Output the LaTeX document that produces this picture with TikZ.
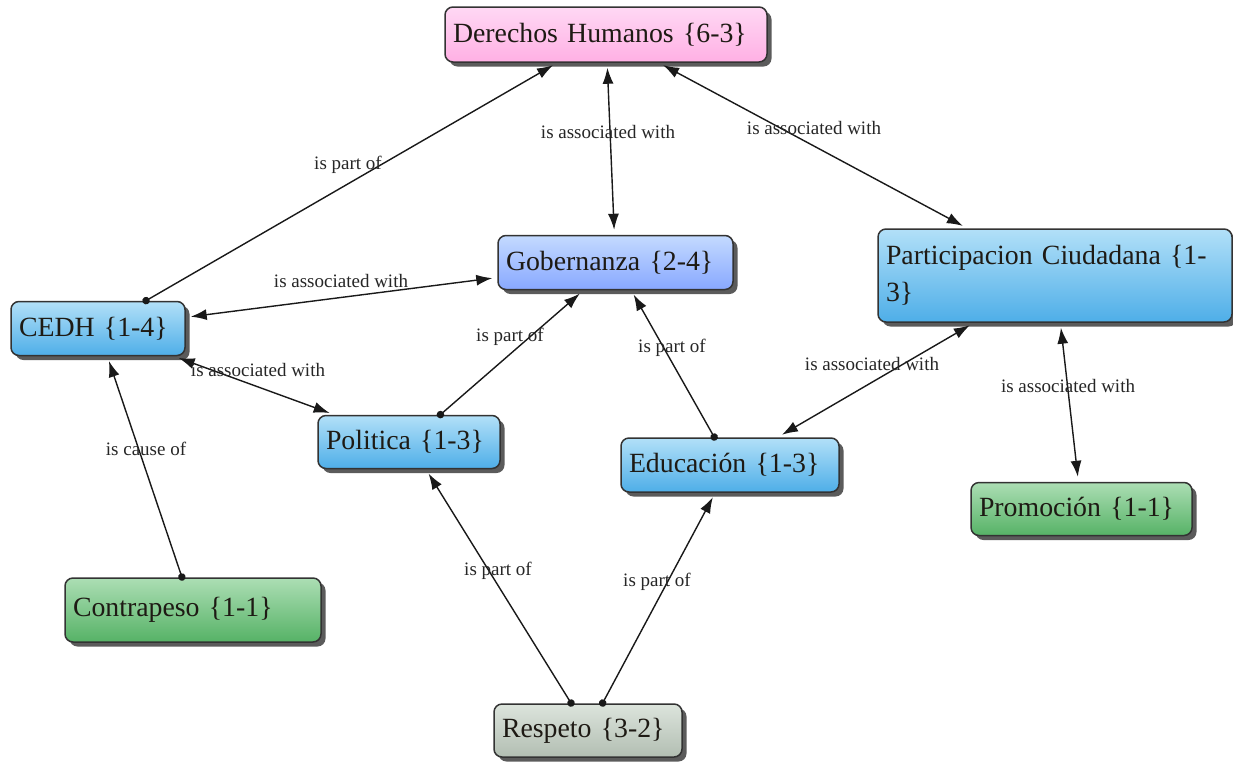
\documentclass[tikz,border=0pt]{standalone}
\usepackage{fontspec}
\setmainfont{Liberation Serif}
\usetikzlibrary{arrows.meta,shadows}
\definecolor{pinkT}{HTML}{FFD8F4}
\definecolor{pinkB}{HTML}{FFB0E4}
\definecolor{gobT}{HTML}{C4DAFF}
\definecolor{gobB}{HTML}{88A8FF}
\definecolor{blueT}{HTML}{B2E0F8}
\definecolor{blueB}{HTML}{4EAEE8}
\definecolor{greenT}{HTML}{ACDEB4}
\definecolor{greenB}{HTML}{56B266}
\definecolor{greyT}{HTML}{DCE4DC}
\definecolor{greyB}{HTML}{B2BEB2}
\definecolor{edge}{HTML}{333333}
\definecolor{txt}{HTML}{1E1A14}
\tikzset{
  concept/.style={draw=edge, line width=1.5pt, rounded corners=8pt,
    inner xsep=8pt, inner ysep=4pt, align=left, text=txt,
    font=\fontsize{27.8}{37}\selectfont,
    drop shadow={shadow xshift=4.5pt, shadow yshift=-4.5pt, fill=black!80, opacity=0.8}},
  pinkbox/.style={concept, top color=pinkT, bottom color=pinkB},
  gobbox/.style={concept, top color=gobT, bottom color=gobB},
  bluebox/.style={concept, top color=blueT, bottom color=blueB},
  greenbox/.style={concept, top color=greenT, bottom color=greenB},
  greybox/.style={concept, top color=greyT, bottom color=greyB},
  sz/.style n args={2}{text width=#1pt-16pt, minimum height=#2pt},
  lbl/.style={font=\fontsize{19}{22}\selectfont, text=black!85, inner sep=0pt},
  link/.style={line width=1.4pt, black!90},
  bi/.style={link, {Latex[length=16pt,width=11pt]}-{Latex[length=16pt,width=11pt]}, shorten >=5pt, shorten <=5pt},
  uni/.style={link, {Circle[length=7.5pt]}-{Latex[length=16pt,width=11pt]}, shorten >=5pt, shorten <=-3.5pt},
}
\begin{document}
\begin{tikzpicture}[x=1pt,y=-1pt]
\useasboundingbox[fill=white] (0,0) rectangle (1233,761);
% concepts
\node[pinkbox, sz={322}{55}] (dh) at (606,34.5) {Derechos Humanos \{6-3\}};
\node[gobbox, sz={235}{54}] (gob) at (615.5,262.5) {Gobernanza \{2-4\}};
\node[bluebox, sz={354}{93}] (part) at (1055,275.5) {Participacion Ciudadana \{1-\\3\}};
\node[bluebox, sz={174}{54}] (cedh) at (98,328.5) {CEDH \{1-4\}};
\node[bluebox, sz={182}{53}] (pol) at (409,442) {Politica \{1-3\}};
\node[bluebox, sz={218}{54}] (edu) at (730,465) {Educación \{1-3\}};
\node[greenbox, sz={221}{53}] (prom) at (1081.5,509) {Promoción \{1-1\}};
\node[greenbox, sz={256}{64}] (contra) at (193,610) {Contrapeso \{1-1\}};
\node[greybox, sz={188}{53}] (resp) at (588,730.5) {Respeto \{3-2\}};
% connectors
\draw[uni] (cedh) -- (dh);
\draw[bi] (gob) -- (dh);
\draw[bi] (dh) -- (part);
\draw[bi] (cedh) -- (gob);
\draw[bi] (cedh) -- (pol);
\draw[uni] (pol) -- (gob);
\draw[uni] (edu) -- (gob);
\draw[bi] (edu) -- (part);
\draw[bi] (part) -- (prom);
\draw[uni] (contra) -- (cedh);
\draw[uni] (resp) -- (pol);
\draw[uni] (resp) -- (edu);
% labels
\node[lbl] (l1) at (348,165) {is part of};
\node[lbl] (l2) at (608,132) {is associated with};
\node[lbl] (l3) at (814,128) {is associated with};
\node[lbl] (l4) at (341,281) {is associated with};
\node[lbl] (l5) at (258,370) {is associated with};
\node[lbl] (l6) at (510,337) {is part of};
\node[lbl] (l7) at (672,348) {is part of};
\node[lbl] (l8) at (872,364) {is associated with};
\node[lbl] (l9) at (1068,386) {is associated with};
\node[lbl] (l10) at (146,449) {is cause of};
\node[lbl] (l11) at (498,571) {is part of};
\node[lbl] (l12) at (657,582) {is part of};
\end{tikzpicture}
\end{document}
